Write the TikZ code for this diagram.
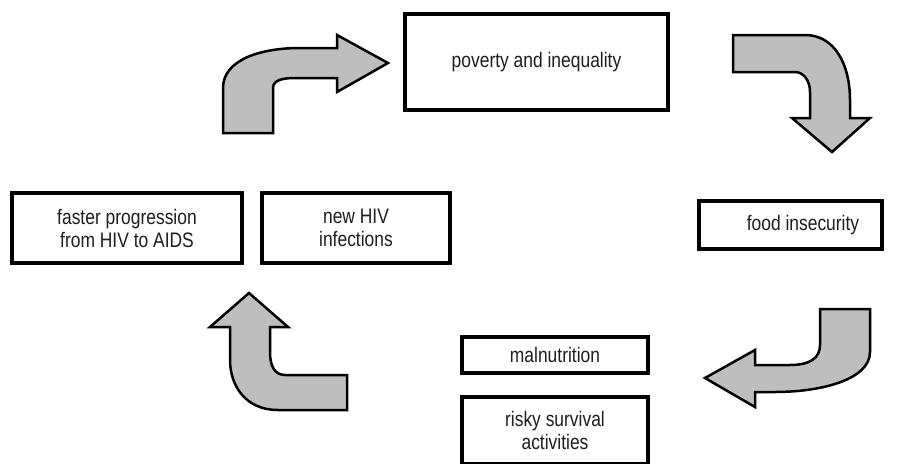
\documentclass[tikz,border=0pt]{standalone}
\usepackage{fontspec}
\setmainfont{Liberation Sans}[FakeStretch=0.83]
\definecolor{arrowgray}{RGB}{190,190,190}
\definecolor{inkgray}{RGB}{30,30,30}
\begin{document}
\begin{tikzpicture}[x=1pt,y=-1pt,
  box/.style={draw=black, line width=3.3pt, rectangle, fill=white, inner sep=0pt,
              text=inkgray, align=center, font=\fontsize{21}{23}\selectfont},
  label text/.style={text=inkgray, align=center, inner sep=0pt, font=\fontsize{21}{23}\selectfont},
  bentarrow/.style={draw=black, fill=arrowgray, line width=2.5pt, line join=miter}]

% page
\fill[white] (0,0) rectangle (899,463);
\useasboundingbox (0,0) rectangle (899,463);

% boxes
\node[box, minimum width=263pt, minimum height=96pt] (poverty) at (536.5,62) {poverty and inequality};
\node[box, minimum width=183pt, minimum height=48pt] (food) at (790.5,225) {};
\node[label text] (foodtxt) at (803,225) {food insecurity};
\node[box, minimum width=186pt, minimum height=36pt] (malnut) at (555,355) {malnutrition};
\node[box, minimum width=186pt, minimum height=67pt] (risky) at (555,430.5) {risky survival\\activities};
\node[box, minimum width=188pt, minimum height=70pt] (newhiv) at (356,228) {new HIV\\infections};
\node[box, minimum width=230pt, minimum height=70pt] (faster) at (127,228) {faster progression\\from HIV to AIDS};

% bent arrow: up then right, towards poverty and inequality
\draw[bentarrow] (223,133) -- (273,133) -- (273,88)
  .. controls (273,80) and (283,78) .. (295,78) -- (337,78) -- (337,92)
  -- (388,63) -- (337,35) -- (337,48) -- (300,48)
  .. controls (260,48) and (223,60) .. (223,88) -- cycle;

% bent arrow: right then down, towards food insecurity
\draw[bentarrow] (733,35) -- (805,35)
  .. controls (835,35) and (850,65) .. (850,100) -- (850,118) -- (870,118)
  -- (832,152) -- (792,118) -- (810,118) -- (810,92)
  .. controls (810,80) and (803,72) .. (795,72) -- (733,72) -- cycle;

% bent arrow: down then left, towards malnutrition
\draw[bentarrow] (820,309) -- (870,309) -- (870,352)
  .. controls (870,380) and (820,392) .. (775,392) -- (755,392) -- (755,407)
  -- (705,378) -- (755,350) -- (755,365) -- (790,365)
  .. controls (810,365) and (820,358) .. (820,345) -- cycle;

% bent arrow: left then up, towards new HIV infections
\draw[bentarrow] (347,375) -- (347,410) -- (278,410)
  .. controls (245,410) and (230,385) .. (230,360) -- (230,327) -- (210,327)
  -- (249,293) -- (288,327) -- (270,327) -- (270,352)
  .. controls (270,368) and (276,375) .. (285,375) -- cycle;
\end{tikzpicture}
\end{document}
